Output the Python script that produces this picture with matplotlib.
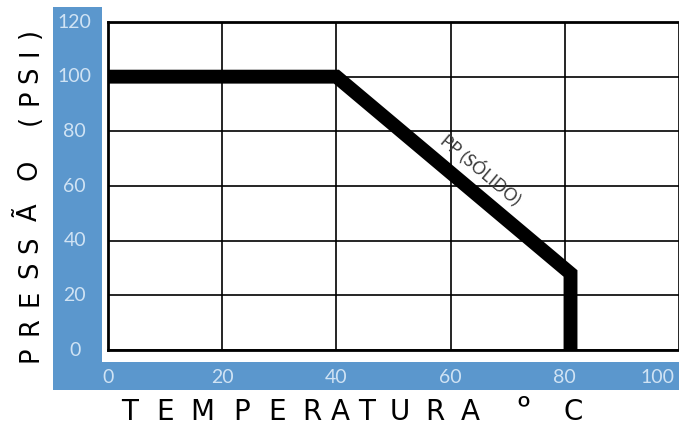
import matplotlib
matplotlib.use("Agg")
import matplotlib.pyplot as plt
from matplotlib.patches import Rectangle
from matplotlib.transforms import ScaledTranslation

# Data
temp = [0, 40, 81, 81]
pressure = [100, 100, 28, 0]
x_ticks = [0, 20, 40, 60, 80, 100]
y_ticks = [0, 20, 40, 60, 80, 100, 120]
curve_label = "PP (SÓLIDO)"
x_title_chars = list("TEMPERATURA") + ["º", "C"]
y_title_chars = list("PRESSÃO") + list("(PSI)")

# layout (pixel positions of title letters)
x_title_pos = [130, 165, 202, 242, 277, 312, 340, 367, 400, 435, 470, 523, 573]
y_title_pos = [354, 326, 298, 270, 245, 212, 170, 120, 97, 75, 52, 33]

W, H = 679, 426
plt.rcParams['font.family'] = ['Lato', 'DejaVu Sans']
fig = plt.figure(figsize=(W / 100, H / 100), dpi=100)

blue = "#5b97cd"
def px(x0, y0, x1, y1):
    return (x0 / W, 1 - y1 / H, (x1 - x0) / W, (y1 - y0) / H)

for (x0, y0, x1, y1) in [(53, 7, 102, 390), (53, 362, 679, 390)]:
    l, b, w, h = px(x0, y0, x1, y1)
    fig.patches.append(Rectangle((l, b), w, h, transform=fig.transFigure,
                                 facecolor=blue, edgecolor='none', zorder=-1))

ax = fig.add_axes([108 / W, 1 - 350 / H, (W - 108) / W, (350 - 22) / H])
ax.set_zorder(2)
ax.set_xlim(0, (W - 108) / 5.75)
ax.set_ylim(0, 120)
ax.set_facecolor('white')

for xv in x_ticks:
    ax.axvline(xv, color='black', lw=1.2, zorder=1)
for yv in y_ticks:
    ax.axhline(yv, color='black', lw=1.2, zorder=1)

for s in ['left', 'bottom', 'top']:
    ax.spines[s].set_linewidth(2)
    ax.spines[s].set_color('black')
ax.spines['right'].set_visible(False)

ax.plot(temp, pressure, color='black', lw=10, solid_joinstyle='miter',
        solid_capstyle='butt', zorder=3)

ax.set_xticks(x_ticks)
ax.set_yticks(y_ticks)
ax.tick_params(axis='both', length=0, labelsize=14, labelcolor='#d0e3f4')
ax.tick_params(axis='y', pad=24)
ax.tick_params(axis='x', pad=14)
for t in ax.get_yticklabels():
    t.set_horizontalalignment('center')
    t.set_verticalalignment('center')
xl = ax.get_xticklabels()
xl[-1].set_transform(xl[-1].get_transform() +
                     ScaledTranslation(-0.22, 0, fig.dpi_scale_trans))

ax.text(65.3, 65.8, curve_label, rotation=-40, ha='center', va='center',
        fontsize=12.5, color='#3a3a3a', zorder=4)

for ch, xp in zip(x_title_chars, x_title_pos):
    if ch == "º":
        fig.text(xp / W, 1 - 420 / H, ch, ha='center', va='baseline',
                 fontsize=25, color='black', family=['Lato'])
    else:
        fig.text(xp / W, 1 - 420 / H, ch, ha='center', va='baseline',
                 fontsize=20, color='black', family=['DejaVu Sans'])
for ch, yp in zip(y_title_chars, y_title_pos):
    fig.text(37 / W, 1 - yp / H, ch, ha='center', va='baseline',
             rotation=90, rotation_mode='anchor', fontsize=18.5,
             color='black', family=['DejaVu Sans'])

fig.savefig("out.png", dpi=100)
